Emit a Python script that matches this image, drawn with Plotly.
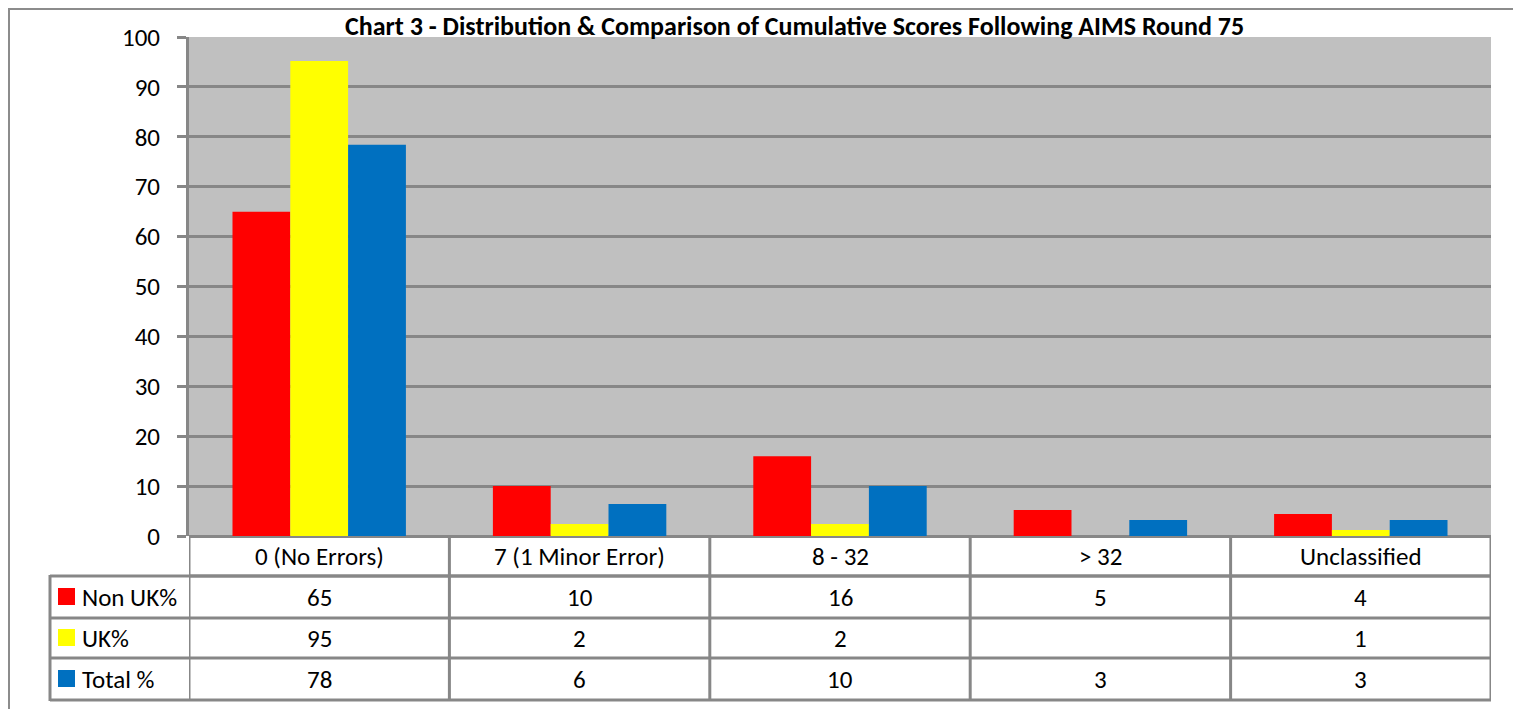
import plotly.graph_objects as go

categories = ["0 (No Errors)", "7 (1 Minor Error)", "8 - 32", "> 32", "Unclassified"]
series_names = ["Non UK%", "UK%", "Total %"]
non_uk = [65.0, 10.0, 16.0, 5.2, 4.4]
uk = [95.2, 2.4, 2.4, None, 1.2]
total = [78.4, 6.4, 10.0, 3.2, 3.2]
colors = ["#FF0000", "#FFFF00", "#0070C0"]
y_ticks = [0, 10, 20, 30, 40, 50, 60, 70, 80, 90, 100]
title = "Chart 3 - Distribution & Comparison of Cumulative Scores Following AIMS Round 75"

W, H = 1521, 709
OFF = 8  # page offset of the figure (body margin)
FONT = "Carlito, Calibri, Lato, sans-serif"
GRID = "#878787"


def py(y):
    return 1 - (y - OFF) / H


def px(x):
    return (x - OFF) / W


plot_l, plot_r, plot_t, plot_b = 189, 1491, 37, 536

fig = go.Figure()
all_series = [non_uk, uk, total]
xs = list(range(len(categories)))
for name, vals, col in zip(series_names, all_series, colors):
    fig.add_trace(go.Bar(x=xs, y=vals, name=name, marker=dict(color=col, line=dict(width=0)),
                         showlegend=False))

shapes = []
annotations = []

# outer chart border
shapes.append(dict(type="rect", xref="paper", yref="paper", x0=px(9), x1=px(1516), y0=py(716), y1=py(9),
                   line=dict(color="#8C8C8C", width=2), fillcolor="rgba(0,0,0,0)", layer="below"))

# table geometry
row_lines = [576, 618, 658, 700]
row_centers = [556, 597, 638, 679]
leg_l = 50

shapes.append(dict(type="line", xref="paper", yref="paper", x0=px(plot_l), x1=px(plot_r),
                   y0=py(row_lines[0]), y1=py(row_lines[0]), line=dict(color=GRID, width=3)))
for yl in row_lines:
    shapes.append(dict(type="line", xref="paper", yref="paper", x0=px(leg_l), x1=px(plot_r),
                       y0=py(yl), y1=py(yl), line=dict(color=GRID, width=3)))
for i in range(len(categories) + 1):
    shapes.append(dict(type="line", xref="x", yref="paper", x0=i - 0.5, x1=i - 0.5,
                       y0=py(row_lines[-1] + 1), y1=py(plot_b), line=dict(color=GRID, width=3)))
shapes.append(dict(type="line", xref="paper", yref="paper", x0=px(leg_l), x1=px(leg_l),
                   y0=py(row_lines[-1] + 1), y1=py(row_lines[0] - 1), line=dict(color=GRID, width=3)))

TXT = dict(size=25, color="#000000", family=FONT)

for i, c in enumerate(categories):
    annotations.append(dict(x=i, y=py(row_centers[0]), xref="x", yref="paper", text=c, showarrow=False,
                            font=TXT, xanchor="center", yanchor="middle"))

for r, (name, vals, col) in enumerate(zip(series_names, all_series, colors)):
    yc = row_centers[r + 1]
    shapes.append(dict(type="rect", xref="paper", yref="paper", x0=px(58), x1=px(75),
                       y0=py(yc + 8), y1=py(yc - 9), fillcolor=col, line=dict(width=0)))
    annotations.append(dict(x=px(80), y=py(yc), xref="paper", yref="paper", text=name, showarrow=False,
                            font=TXT, xanchor="left", yanchor="middle"))
    for i, v in enumerate(vals):
        if v is None:
            continue
        annotations.append(dict(x=i, y=py(yc), xref="x", yref="paper", text=str(int(round(v))),
                                showarrow=False, font=TXT, xanchor="center", yanchor="middle"))

annotations.append(dict(x=px(794), y=py(26), xref="paper", yref="paper", text="<b>" + title + "</b>",
                        showarrow=False, font=dict(size=26, color="#000000", family=FONT),
                        xanchor="center", yanchor="middle"))

fig.update_layout(
    width=W, height=H,
    autosize=False,
    margin=dict(l=0, r=0, t=0, b=0, pad=0, autoexpand=False),
    paper_bgcolor="#FFFFFF",
    plot_bgcolor="#C0C0C0",
    bargap=0.334, bargroupgap=0,
    barmode="group",
    xaxis=dict(domain=[px(plot_l), px(plot_r)], range=[-0.5, len(categories) - 0.5], automargin=False,
               showticklabels=False, showgrid=False, zeroline=False, showline=False, ticks=""),
    yaxis=dict(domain=[py(plot_b), py(plot_t)], range=[0, 100], tickvals=y_ticks, automargin=False,
               showgrid=True, gridcolor=GRID, gridwidth=3, zeroline=True, zerolinecolor=GRID, zerolinewidth=3,
               showline=True, linecolor=GRID, linewidth=3, ticks="outside", ticklen=9, tickwidth=3,
               tickcolor=GRID, tickfont=TXT, ticklabelstandoff=12),
    shapes=shapes,
    annotations=annotations,
)

fig.write_html("out.html")
